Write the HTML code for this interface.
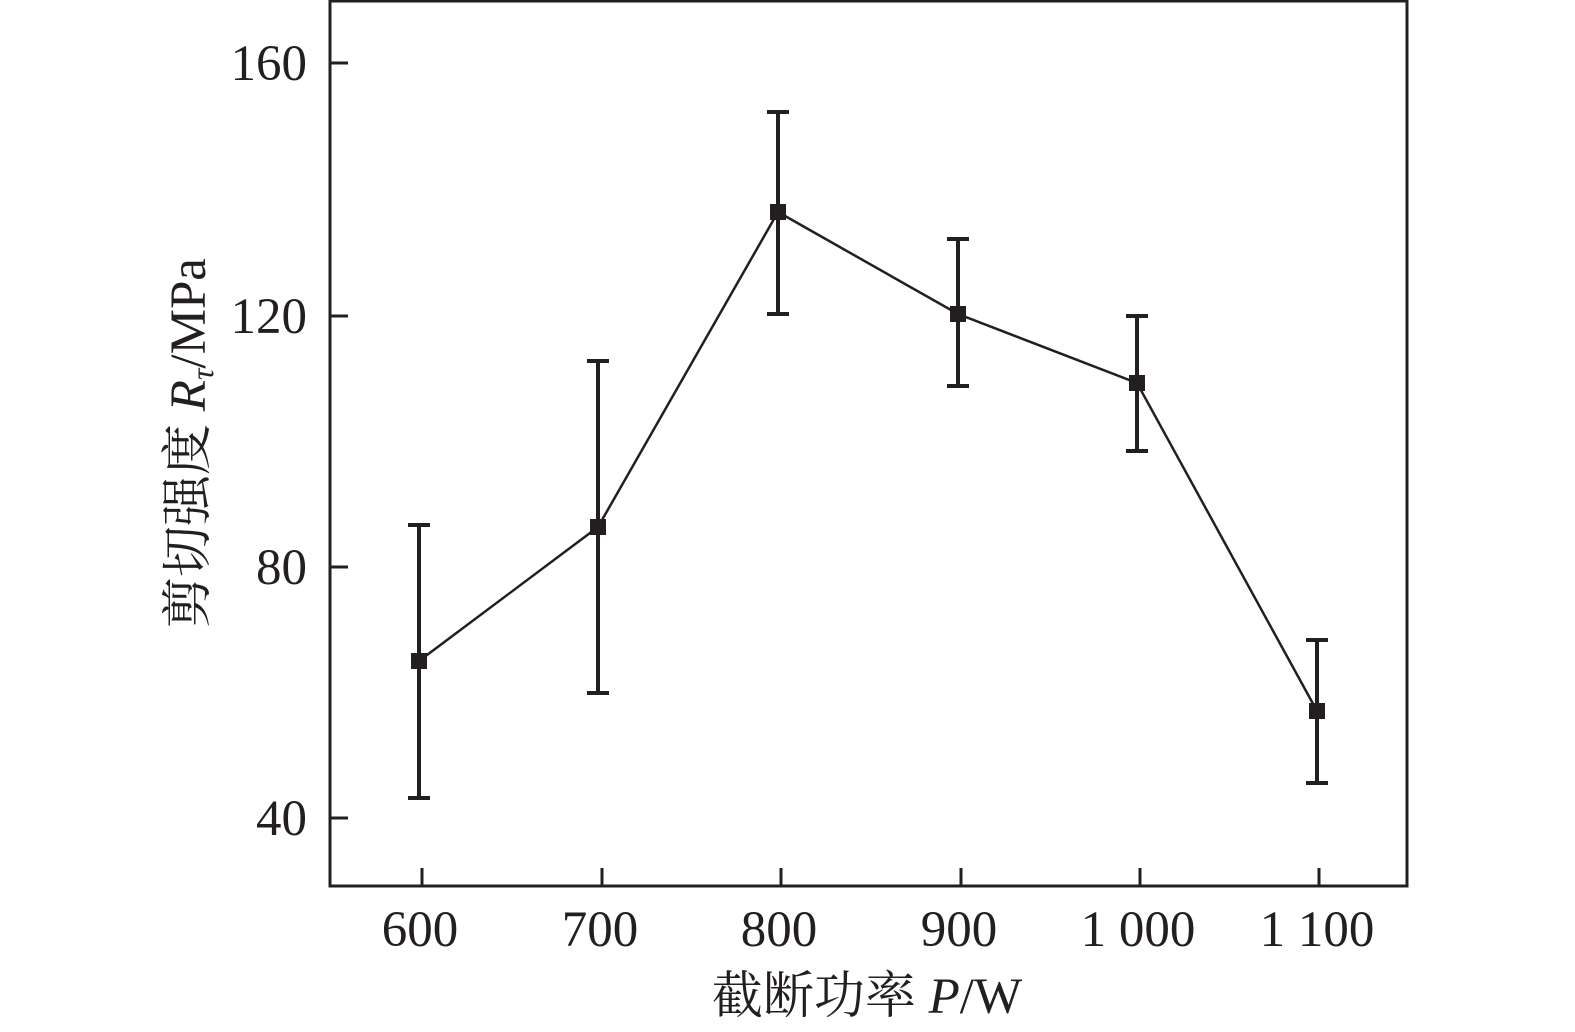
<!DOCTYPE html>
<html><head><meta charset="utf-8"><style>
html,body{margin:0;padding:0;background:#fff}
svg{display:block}
text{font-family:"Liberation Serif","Noto Serif CJK SC",serif;fill:#231f20}
</style></head><body>
<svg width="1575" height="1032" viewBox="0 0 1575 1032" xmlns="http://www.w3.org/2000/svg">
<rect x="330" y="1" width="1077" height="885" fill="none" stroke="#231f20" stroke-width="3"/>
<g stroke="#231f20" stroke-width="3">
<line x1="330" y1="63" x2="348" y2="63"/><line x1="330" y1="316" x2="348" y2="316"/>
<line x1="330" y1="567" x2="348" y2="567"/><line x1="330" y1="818" x2="348" y2="818"/>
<line x1="422" y1="886" x2="422" y2="868"/><line x1="602" y1="886" x2="602" y2="868"/>
<line x1="781" y1="886" x2="781" y2="868"/><line x1="961" y1="886" x2="961" y2="868"/>
<line x1="1140" y1="886" x2="1140" y2="868"/><line x1="1319" y1="886" x2="1319" y2="868"/>
</g>
<g font-size="51" text-anchor="end">
<text x="307" y="80">160</text><text x="307" y="333">120</text>
<text x="307" y="584">80</text><text x="307" y="835">40</text>
</g>
<g font-size="51" text-anchor="middle">
<text x="420" y="946">600</text><text x="600" y="946">700</text><text x="779" y="946">800</text>
<text x="959" y="946">900</text><text x="1138" y="946">1 000</text><text x="1317" y="946">1 100</text>
</g>
<text x="867" y="1013" font-size="51" text-anchor="middle">截断功率 <tspan font-style="italic">P</tspan>/W</text>
<text transform="translate(205,443) rotate(-90)" font-size="51" text-anchor="middle">剪切强度 <tspan font-style="italic">R</tspan><tspan font-style="italic" font-size="32" dy="8">τ</tspan><tspan dy="-8">/MPa</tspan></text>
<polyline points="419,661 598,527 778,212 958,314 1137,383 1317,711" fill="none" stroke="#231f20" stroke-width="2.5"/>
<g stroke="#231f20" stroke-width="4">
<line x1="419" y1="525" x2="419" y2="798"/><line x1="408" y1="525" x2="430" y2="525"/><line x1="408" y1="798" x2="430" y2="798"/>
<line x1="598" y1="361" x2="598" y2="693"/><line x1="587" y1="361" x2="609" y2="361"/><line x1="587" y1="693" x2="609" y2="693"/>
<line x1="778" y1="112" x2="778" y2="314"/><line x1="767" y1="112" x2="789" y2="112"/><line x1="767" y1="314" x2="789" y2="314"/>
<line x1="958" y1="239" x2="958" y2="386"/><line x1="947" y1="239" x2="969" y2="239"/><line x1="947" y1="386" x2="969" y2="386"/>
<line x1="1137" y1="316" x2="1137" y2="451"/><line x1="1126" y1="316" x2="1148" y2="316"/><line x1="1126" y1="451" x2="1148" y2="451"/>
<line x1="1317" y1="640" x2="1317" y2="783"/><line x1="1306" y1="640" x2="1328" y2="640"/><line x1="1306" y1="783" x2="1328" y2="783"/>
</g>
<g fill="#231f20">
<rect x="411" y="653" width="16" height="16"/><rect x="590" y="519" width="16" height="16"/>
<rect x="770" y="204" width="16" height="16"/><rect x="950" y="306" width="16" height="16"/>
<rect x="1129" y="375" width="16" height="16"/><rect x="1309" y="703" width="16" height="16"/>
</g>
</svg>
</body></html>
